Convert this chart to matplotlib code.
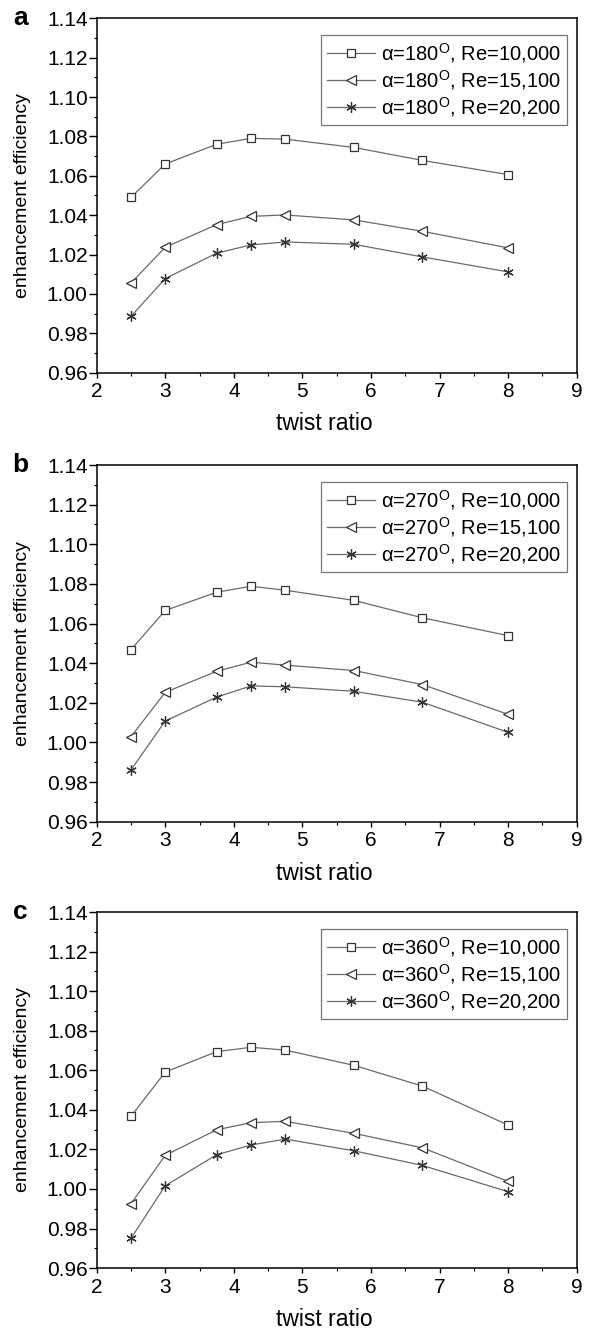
import matplotlib
matplotlib.use('Agg')
import matplotlib.pyplot as plt
from matplotlib.ticker import MultipleLocator

plt.rcParams['font.family'] = ['Liberation Sans', 'DejaVu Sans']
plt.rcParams['mathtext.fontset'] = 'custom'
plt.rcParams['mathtext.rm'] = 'Liberation Sans'

# Daten
twist_ratio = [2.5, 3.0, 3.75, 4.25, 4.75, 5.75, 6.75, 8.0]
reynolds = ['10,000', '15,100', '20,200']
angles = ['180', '270', '360']
panel_labels = ['a', 'b', 'c']

eff_180_re10000 = [1.049, 1.066, 1.076, 1.079, 1.0786, 1.0744, 1.0678, 1.0606]
eff_180_re15100 = [1.0055, 1.0237, 1.0352, 1.0394, 1.0401, 1.0376, 1.0318, 1.0234]
eff_180_re20200 = [0.9886, 1.0078, 1.0207, 1.0249, 1.0264, 1.0252, 1.0188, 1.0112]

eff_270_re10000 = [1.0468, 1.0666, 1.0758, 1.0788, 1.0768, 1.0717, 1.0629, 1.0539]
eff_270_re15100 = [1.0029, 1.0253, 1.0359, 1.0405, 1.0390, 1.0363, 1.0292, 1.0142]
eff_270_re20200 = [0.9861, 1.0108, 1.0229, 1.0285, 1.0281, 1.0258, 1.0203, 1.0051]

eff_360_re10000 = [1.0367, 1.0591, 1.0694, 1.0716, 1.0702, 1.0625, 1.0520, 1.0323]
eff_360_re15100 = [0.9925, 1.0170, 1.0299, 1.0335, 1.0342, 1.0281, 1.0208, 1.0038]
eff_360_re20200 = [0.9750, 1.0016, 1.0173, 1.0222, 1.0252, 1.0193, 1.0119, 0.9986]

panels = [
    [eff_180_re10000, eff_180_re15100, eff_180_re20200],
    [eff_270_re10000, eff_270_re15100, eff_270_re20200],
    [eff_360_re10000, eff_360_re15100, eff_360_re20200],
]

markers = ['s', '<', (6, 2, 0)]
marker_sizes = [6, 7, 7.5]

fig = plt.figure(figsize=(5.92, 13.32), dpi=100)

# Achsenpositionen (links, unten, Breite, Höhe) in Figurenkoordinaten
positions = [
    [0.1633, 0.7202, 0.8108, 0.2661],
    [0.1633, 0.3831, 0.8108, 0.2678],
    [0.1633, 0.0480, 0.8108, 0.2673],
]

for i, (pos, series) in enumerate(zip(positions, panels)):
    ax = fig.add_axes(pos)
    for j, values in enumerate(series):
        label = f'α={angles[i]}$^{{\\mathrm{{O}}}}$, Re={reynolds[j]}'
        ax.plot(twist_ratio, values, color='#6a6a6a', linewidth=0.9,
                marker=markers[j], markersize=marker_sizes[j],
                markerfacecolor='white', markeredgecolor='#333333',
                markeredgewidth=0.9, label=label)

    ax.set_xlim(2, 9)
    ax.set_ylim(0.96, 1.14)
    ax.xaxis.set_major_locator(MultipleLocator(1))
    ax.xaxis.set_minor_locator(MultipleLocator(0.5))
    ax.yaxis.set_major_locator(MultipleLocator(0.02))
    ax.yaxis.set_minor_locator(MultipleLocator(0.01))
    ax.yaxis.set_major_formatter(plt.FormatStrFormatter('%.2f'))
    ax.tick_params(which='both', direction='out', top=False, right=False,
                   labelsize=15)
    ax.tick_params(axis='x', which='major', length=3.5, width=1, pad=3.5)
    ax.tick_params(axis='y', which='major', length=5.5, width=1, pad=1)
    ax.tick_params(which='minor', length=2.3, width=0.8)
    for spine in ax.spines.values():
        spine.set_linewidth(1.1)

    ax.set_xlabel('twist ratio', fontsize=16.5, va='top')
    ax.xaxis.set_label_coords(0.475, -0.112)
    ax.set_ylabel('enhancement efficiency', fontsize=14)
    ax.yaxis.set_label_coords(-0.137, 0.5)

    leg = ax.legend(loc='upper right', bbox_to_anchor=(0.98, 0.953),
                    fontsize=14.5, frameon=True, fancybox=False,
                    handlelength=2.4, handletextpad=0.3, borderpad=0.3,
                    labelspacing=0.15, borderaxespad=0)
    leg.get_frame().set_edgecolor('#555555')
    leg.get_frame().set_linewidth(0.9)

    fig.text(0.0346, pos[1] + pos[3], panel_labels[i], fontsize=19,
             fontweight='bold', ha='center', va='center')

fig.savefig('out.png', dpi=100)
